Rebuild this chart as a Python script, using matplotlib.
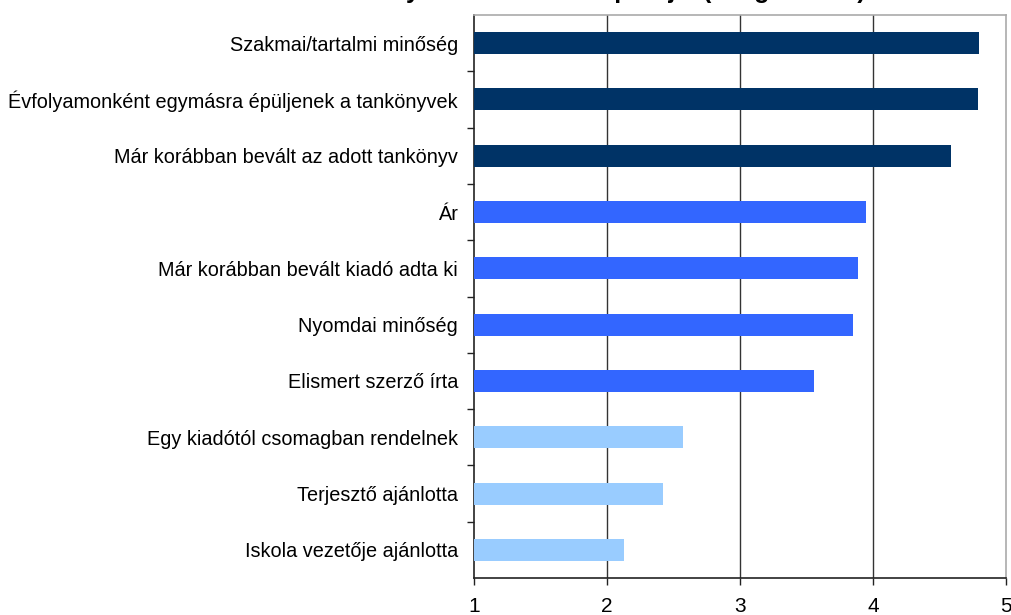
import matplotlib
matplotlib.use("Agg")
import matplotlib.pyplot as plt

plt.rcParams['font.family'] = ['Liberation Sans', 'DejaVu Sans']

categories = [
    "Szakmai/tartalmi minőség",
    "Évfolyamonként egymásra épüljenek a tankönyvek",
    "Már korábban bevált az adott tankönyv",
    "Ár",
    "Már korábban bevált kiadó adta ki",
    "Nyomdai minőség",
    "Elismert szerző írta",
    "Egy kiadótól csomagban rendelnek",
    "Terjesztő ajánlotta",
    "Iskola vezetője ajánlotta",
]
values = [4.80, 4.79, 4.59, 3.95, 3.89, 3.85, 3.56, 2.57, 2.42, 2.13]
groups = [0, 0, 0, 1, 1, 1, 1, 2, 2, 2]
group_colors = ["#003366", "#3366FF", "#99CCFF"]
xticks = [1, 2, 3, 4, 5]
title = "A tankönyvválasztás szempontjai (átlagértékek)"

fig = plt.figure(figsize=(10.12, 6.15), dpi=100)
ax = fig.add_axes([474/1012, 1-578/615, (1006-474)/1012, (578-15)/615])

n = len(categories)
ypos = list(range(n))
ax.barh(ypos, [v - 1 for v in values], left=1, height=0.39,
        color=[group_colors[g] for g in groups], zorder=3)
ax.set_ylim(n - 0.5, -0.5)
ax.set_xlim(1, 5)

ax.set_xticks(xticks)
ax.set_xticklabels([str(t) for t in xticks], fontsize=15)
for x in xticks[1:-1]:
    ax.axvline(x, color="#333333", lw=1.0, zorder=1)

ax.set_yticks([i - 0.5 for i in range(1, n)])
ax.set_yticklabels([])
ax.set_yticks(ypos, minor=True)
ax.set_yticklabels(categories, minor=True, fontsize=14.3)
ax.tick_params(axis='y', which='minor', length=0, pad=11.5)
ax.tick_params(axis='y', which='major', length=5, width=1, color="#222222", direction='out')
ax.tick_params(axis='x', length=5, width=1, color="#222222", direction='out', pad=8.5)

ax.spines['left'].set_color("#222222")
ax.spines['bottom'].set_color("#222222")
ax.spines['top'].set_color("#aaaaaa")
ax.spines['right'].set_color("#aaaaaa")
for s in ax.spines.values():
    s.set_linewidth(1.2)

fig.text(866/1012, 1 + 2/615, title, ha='right', va='baseline',
         fontsize=18, fontweight='bold')

fig.savefig("out.png", dpi=100)
